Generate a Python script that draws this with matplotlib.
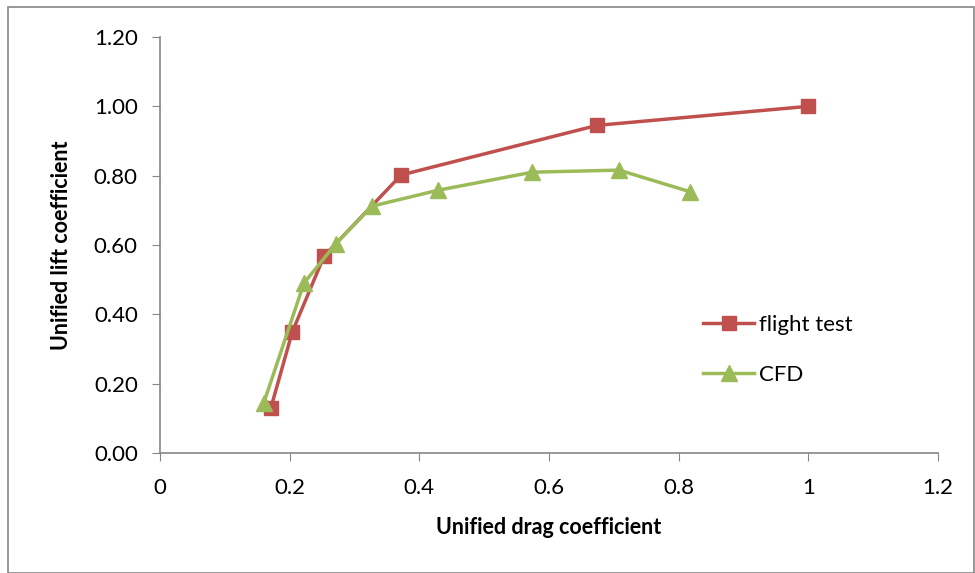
import matplotlib
matplotlib.use("Agg")
import matplotlib.pyplot as plt
from matplotlib.patches import Rectangle

flight_x = [0.171, 0.204, 0.253, 0.372, 0.674, 1.0]
flight_y = [0.130, 0.349, 0.568, 0.802, 0.945, 1.0]
cfd_x = [0.160, 0.222, 0.271, 0.327, 0.429, 0.574, 0.708, 0.817]
cfd_y = [0.144, 0.490, 0.603, 0.712, 0.758, 0.810, 0.816, 0.754]
xticks = [0, 0.2, 0.4, 0.6, 0.8, 1, 1.2]
xticklabels = ["0", "0.2", "0.4", "0.6", "0.8", "1", "1.2"]
yticks = [0.0, 0.2, 0.4, 0.6, 0.8, 1.0, 1.2]
yticklabels = ["0.00", "0.20", "0.40", "0.60", "0.80", "1.00", "1.20"]

plt.rcParams['font.family'] = ['Lato', 'DejaVu Sans']
fig = plt.figure(figsize=(9.75, 5.73), dpi=100)
ax = fig.add_axes([160/975, 1-453/573, (938-160)/975, (453-37)/573])

red = '#c0504d'
green = '#9bbb59'
ax.plot(flight_x, flight_y, color=red, lw=2.5, marker='s', ms=10, label='flight test', clip_on=False)
ax.plot(cfd_x, cfd_y, color=green, lw=2.5, marker='^', ms=11, label='CFD', clip_on=False)

ax.set_xlim(0, 1.2)
ax.set_ylim(0, 1.2)
ax.set_xticks(xticks)
ax.set_xticklabels(xticklabels)
ax.set_yticks(yticks)
ax.set_yticklabels(yticklabels)
for s in ['top', 'right']:
    ax.spines[s].set_visible(False)
for s in ['left', 'bottom']:
    ax.spines[s].set_color('#868686')
    ax.spines[s].set_linewidth(1.2)
ax.tick_params(axis='both', direction='out', length=6, color='#868686', labelsize=16)
ax.tick_params(axis='x', pad=12)
ax.tick_params(axis='y', pad=10)
ax.set_xlabel('Unified drag coefficient', fontsize=15.5, fontweight='bold', labelpad=14)
ax.set_ylabel('Unified lift coefficient', fontsize=15.5, fontweight='bold', labelpad=16)

leg = ax.legend(loc='upper left', bbox_to_anchor=(0.678, 0.37), frameon=False, fontsize=16,
                handlelength=2.3, handletextpad=0.2, labelspacing=1.35, borderpad=0.2)

fig.patches.append(Rectangle((8/975, 0), (975-8)/975 - 0.001, 1-7/573, transform=fig.transFigure,
                             fill=False, edgecolor='#868686', lw=1.2))
fig.savefig('out.png', dpi=100)
